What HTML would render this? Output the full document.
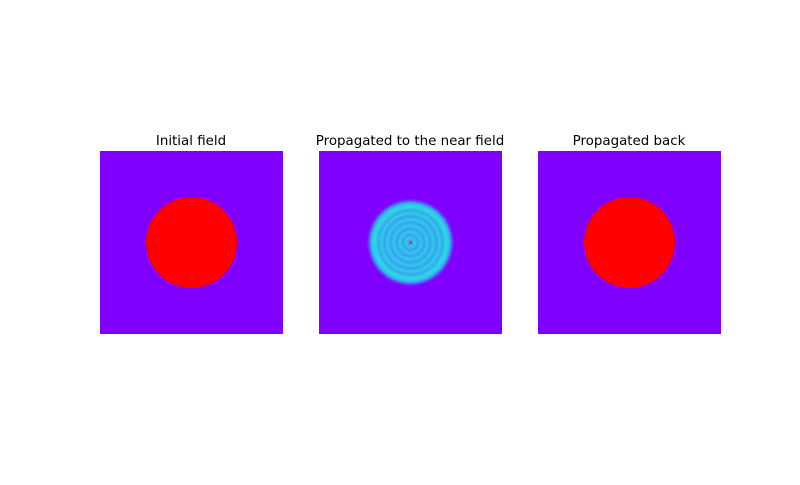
<!DOCTYPE html>
<html><head><meta charset="utf-8"><style>
body{margin:0;background:#fff;width:800px;height:480px;overflow:hidden}
svg text{font-family:"DejaVu Sans","Liberation Sans",sans-serif;font-size:13.4px;fill:#000}
</style></head><body>
<svg width="800" height="480">
<defs>
<radialGradient id="rings" cx="0.5" cy="0.5" r="0.5"></radialGradient>
</defs>
<g>
<text x="191" y="145" text-anchor="middle">Initial field</text>
<rect x="100" y="151" width="183" height="183" fill="#8000ff"/>
<circle cx="191.5" cy="242.5" r="45.5" fill="#ff0000"/>
</g>
<g>
<text x="410" y="145" text-anchor="middle">Propagated to the near field</text>
<rect x="319" y="151" width="183" height="183" fill="#8000ff"/>
<circle cx="410.5" cy="242.5" r="44" fill="url(#rings)"/>
<circle cx="410.5" cy="242.5" r="1.5" fill="#ff2060"/>
</g>
<g>
<text x="629" y="145" text-anchor="middle">Propagated back</text>
<rect x="538" y="151" width="183" height="183" fill="#8000ff"/>
<circle cx="629.5" cy="242.5" r="45.5" fill="#ff0000"/>
</g>
</svg>
<script>
// ring intensity profile (radius fraction, intensity 0..1)
const ringRadius=[0,0.04,0.1,0.17,0.24,0.31,0.38,0.45,0.52,0.59,0.66,0.73,0.8,0.86,0.91,0.95,1.0];
const ringValue=[0.85,0.55,0.85,0.55,0.85,0.55,0.85,0.55,0.85,0.55,0.85,0.6,0.95,0.85,0.5,0.2,0.0];
function cmap(v){
  const a=[128,0,255],b=[60,154,245],c=[40,224,224];
  let p,q,t;
  if(v<0.5){p=a;q=b;t=v/0.5;}else{p=b;q=c;t=(v-0.5)/0.5;}
  const m=i=>Math.round(p[i]+(q[i]-p[i])*t);
  return `rgb(${m(0)},${m(1)},${m(2)})`;
}
const g=document.getElementById('rings');
ringRadius.forEach((r,i)=>{
  const s=document.createElementNS('http://www.w3.org/2000/svg','stop');
  s.setAttribute('offset',r);
  s.setAttribute('stop-color',cmap(ringValue[i]));
  
  
  g.appendChild(s);
});
</script>
</body></html>
